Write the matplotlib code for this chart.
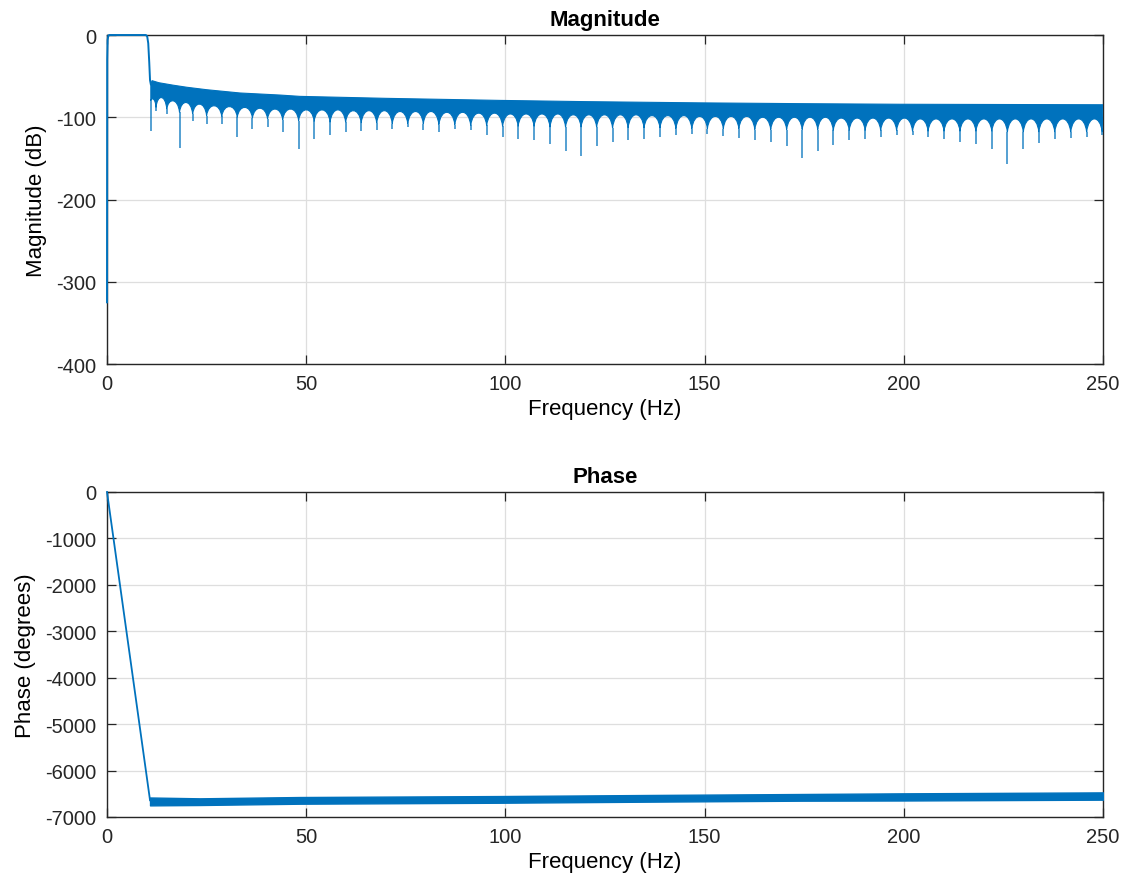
import matplotlib
matplotlib.use("Agg")
import matplotlib.pyplot as plt
from matplotlib.path import Path
from matplotlib.patches import PathPatch

# ---- data ------------------------------------------------------------------
# passband / transition of the magnitude response (Hz, dB)
pass_f = [0.0, 0.05, 0.15, 0.35, 0.6, 9.7, 9.9, 10.1, 10.35, 10.6, 10.8, 11.0]
pass_db = [-325, -30, -6, -0.5, 0, 0, -0.5, -2, -10, -33, -55, -60]

# top edge of the dense stop-band trace (Hz, dB)
env_f = [11.0, 11.3, 13.0, 16.6, 20.0, 25.0, 33.4, 43.4, 48.4, 70.0,
         98.6, 120.0, 148.8, 175.0, 199.0, 225.0, 250.0]
env_db = [-60, -55.5, -58, -61, -63.5, -66.5, -70.5, -73, -74.6, -77,
          -79.5, -81, -82.5, -83.5, -84.2, -84.5, -84.8]

# stop-band nulls: frequency, level where the lobes meet, spike depth
null_freq = [11.0, 12.3, 15.0, 18.2, 21.5, 25.0, 28.8, 32.7, 36.5, 40.3,
             44.1, 48.1, 52.0, 56.0, 59.9, 63.8, 67.7, 71.6, 75.5, 79.4,
             83.3, 87.3, 91.3, 95.3, 99.3, 103.2, 107.2, 111.2, 115.1, 119.0,
             122.9, 126.9, 130.8, 134.8, 138.8, 142.8, 146.8, 150.7, 154.7, 158.6,
             162.6, 166.6, 170.6, 174.5, 178.4, 182.3, 186.3, 190.3, 194.2, 198.2,
             202.2, 206.1, 210.1, 214.1, 218.1, 222.1, 226.0, 230.0, 233.9, 237.9,
             241.9, 245.9, 249.8]
null_cusp = [-80, -88, -90, -94, -96, -98, -99, -100, -101, -102,
             -103, -104, -105, -106, -106, -107, -107, -108, -108, -108,
             -109, -109, -110, -110, -111, -111, -111, -112, -112, -112,
             -112, -113, -113, -113, -113, -114, -114, -114, -114, -114,
             -115, -115, -115, -115, -115, -116, -116, -116, -116, -116,
             -117, -117, -117, -117, -117, -117, -118, -118, -118, -118,
             -118, -118, -118]
null_depth = [-117, -92, -96, -137, -104, -108, -108, -124, -114, -112,
              -118, -139, -126, -122, -118, -117, -116, -114, -112, -116,
              -118, -114, -116, -122, -124, -126, -128, -132, -141, -147,
              -135, -130, -128, -126, -124, -122, -120, -120, -123, -125,
              -128, -130, -135, -149, -141, -134, -128, -126, -124, -122,
              -122, -124, -127, -130, -133, -139, -157, -138, -131, -127,
              -125, -124, -121]
# lower edge of the trace in the middle of each lobe (dB)
lobe_db = [-78, -76, -80, -82, -84, -86, -87, -88, -89, -90,
           -90, -91, -91, -91, -92, -92, -92, -93, -93, -93,
           -94, -94, -95, -95, -96, -96, -96, -96, -97, -97,
           -97, -97, -97, -98, -98, -98, -99, -99, -99, -99,
           -100, -100, -100, -100, -100, -101, -101, -101, -101, -101,
           -102, -102, -102, -102, -102, -102, -102, -102, -102, -102,
           -102, -102]

# phase: linear part, then the band (Hz, degrees)
phase_line_f = [0.0, 10.8]
phase_line_deg = [0, -6640]
phase_f = [10.8, 23.3, 48.4, 98.6, 136.0, 174.0, 199.0, 250.0]
phase_hi = [-6580, -6598, -6570, -6549, -6526, -6505, -6491, -6470]
phase_lo = [-6750, -6742, -6714, -6693, -6670, -6649, -6645, -6627]

# ---- style -------------------------------------------------------------------
BLUE = "#0072BD"
AX_COL = "#262626"
plt.rcParams.update({
    "font.family": ["Liberation Sans", "DejaVu Sans"],
    "font.size": 14.5,
    "axes.unicode_minus": False,
    "axes.edgecolor": AX_COL,
    "axes.linewidth": 1.0,
    "xtick.color": AX_COL,
    "ytick.color": AX_COL,
})

fig = plt.figure(figsize=(11.24, 8.87), dpi=100)
ax1 = fig.add_axes([0.0952, 0.5885, 0.8861, 0.3709])
ax2 = fig.add_axes([0.0952, 0.0778, 0.8861, 0.3664])


def matlab_axes(ax):
    ax.set_axisbelow(True)
    ax.grid(True, color="#dedede", linewidth=0.9)
    ax.tick_params(direction="in", top=True, right=True, length=6.5,
                   width=0.9, labelsize=14.5)
    ax.tick_params(axis="x", pad=7)
    ax.tick_params(axis="y", pad=8)
    ax.set_xlim(0, 250)
    ax.set_xticks([0, 50, 100, 150, 200, 250])
    ax.set_xlabel("Frequency (Hz)", fontsize=16, labelpad=4)


# ---- magnitude ---------------------------------------------------------------
matlab_axes(ax1)
ax1.set_ylim(-400, 0)
ax1.set_yticks([0, -100, -200, -300, -400])
ax1.set_ylabel("Magnitude (dB)", fontsize=16, labelpad=6)
ax1.set_title("Magnitude", fontsize=16, fontweight="bold", pad=7)

ax1.plot(pass_f, pass_db, color=BLUE, lw=1.4, clip_on=False, zorder=3)

# dense stop-band trace: top edge, then scalloped lower edge lobe by lobe
verts = [(f, d) for f, d in zip(env_f, env_db)]
codes = [Path.MOVETO] + [Path.LINETO] * (len(env_f) - 1)
verts.append((null_freq[-1], null_cusp[-1]))
codes.append(Path.LINETO)
k = 0.12
for i in range(len(lobe_db) - 1, -1, -1):
    x0, x1 = null_freq[i], null_freq[i + 1]
    c0, c1 = null_cusp[i], null_cusp[i + 1]
    w = x1 - x0
    top = (lobe_db[i] - 0.125 * (c0 + c1)) / 0.75
    verts += [(x1 - k * w, top), (x0 + k * w, top), (x0, c0)]
    codes += [Path.CURVE4] * 3
verts.append(verts[0])
codes.append(Path.CLOSEPOLY)
ax1.add_patch(PathPatch(Path(verts, codes), facecolor=BLUE, edgecolor=BLUE,
                        lw=0.8, zorder=3))
ax1.vlines(null_freq, null_depth, null_cusp, color=BLUE, lw=1.1, alpha=0.85,
           zorder=3)

# ---- phase -------------------------------------------------------------------
matlab_axes(ax2)
ax2.set_ylim(-7000, 0)
ax2.set_yticks(list(range(0, -7001, -1000)))
ax2.set_ylabel("Phase (degrees)", fontsize=16, labelpad=6)
ax2.set_title("Phase", fontsize=16, fontweight="bold", pad=7)

ax2.plot(phase_line_f, phase_line_deg, color=BLUE, lw=1.3, clip_on=False,
         zorder=3)
ax2.fill_between(phase_f, phase_lo, phase_hi, color=BLUE, lw=1.0, zorder=3)

fig.savefig("out.png", dpi=100)
